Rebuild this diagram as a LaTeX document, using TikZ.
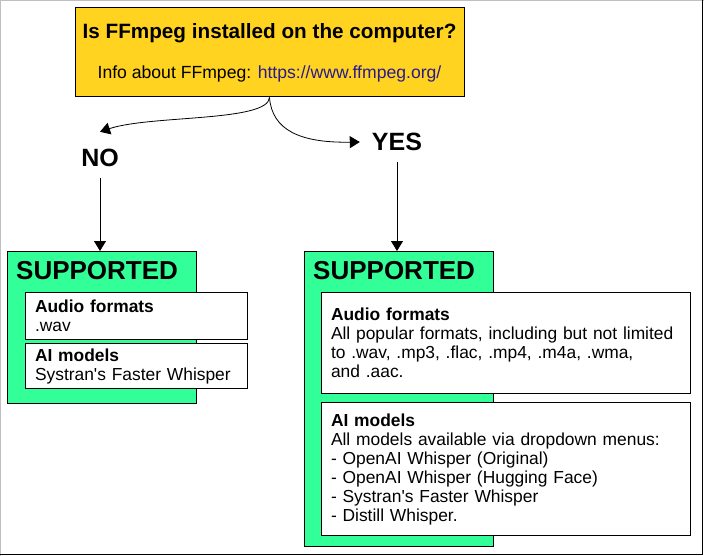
\documentclass[tikz,border=0pt]{standalone}
\usepackage{fontspec}
\setmainfont{Liberation Sans}
\usetikzlibrary{arrows.meta, positioning}
\definecolor{ffyellow}{HTML}{FFD320}
\definecolor{supgreen}{HTML}{33FF99}
\definecolor{linkblue}{HTML}{2A1A8C}

\begin{document}
\begin{tikzpicture}[x=1pt, y=-1pt,
    qbox/.style={rectangle, draw, fill=ffyellow, line width=1pt,
                 minimum width=389pt, minimum height=89pt, inner sep=0pt},
    grbox/.style={rectangle, draw, fill=supgreen, line width=1pt,
                  minimum width=189pt, anchor=north west, inner sep=0pt},
    infobox/.style={rectangle, draw, fill=white, line width=1pt, anchor=north west,
                    align=left, inner xsep=9.5pt, inner ysep=0pt,
                    font=\fontsize{17.4}{19}\selectfont},
    answer/.style={font=\fontsize{25}{30}\selectfont\bfseries,
                   minimum height=40pt, inner xsep=12pt},
    suplabel/.style={font=\fontsize{26}{30}\selectfont\bfseries, anchor=west, inner sep=0pt},
    arr/.style={-{Triangle[length=10pt, width=12pt]}, line width=0.8pt}
]
    \useasboundingbox (0,0) rectangle (704,556);
    % window frame
    \draw[black!25, line width=2pt] (0,556) -- (0,0) -- (704,0);
    \draw[line width=1.5pt] (702.5,0) -- (702.5,554.5) -- (0,554.5);

    % question
    \node[qbox] (ffq) at (269.5,52.5) {};
    \node[font=\fontsize{20.7}{24}\selectfont\bfseries] (qtitle) at (269.5,33)
        {Is FFmpeg installed on the computer?};
    \node[font=\fontsize{17.6}{20}\selectfont] (qinfo) at (269.5,74)
        {Info about FFmpeg: \textcolor{linkblue}{https://www.ffmpeg.org/}};

    % answers
    \node[answer] (no) at (100,158) {NO};
    \node[answer] (yes) at (397,142) {YES};

    % NO branch
    \node[grbox, minimum height=152pt] (nosup) at (7,251) {};
    \node[suplabel] (nosuptxt) at (16,271) {SUPPORTED};
    \node[infobox, text width=203pt, minimum height=47pt] (noaudio) at (25,292)
        {\textbf{Audio formats}\\.wav};
    \node[infobox, text width=203pt, minimum height=45pt] (nomodels) at (25,343)
        {\textbf{AI models}\\Systran\textquotesingle s Faster Whisper};

    % YES branch
    \node[grbox, minimum height=295pt] (yessup) at (304,251) {};
    \node[suplabel] (yessuptxt) at (313,271) {SUPPORTED};
    \node[infobox, text width=350pt, minimum height=101pt] (yesaudio) at (321,292)
        {\textbf{Audio formats}\\All popular formats, including but not limited\\
         to .wav, .mp3, .flac, .mp4, .m4a, .wma,\\and .aac.};
    \node[infobox, text width=350pt, minimum height=133pt] (yesmodels) at (321,402)
        {\textbf{AI models}\\All models available via dropdown menus:\\
         - OpenAI Whisper (Original)\\- OpenAI Whisper (Hugging Face)\\
         - Systran\textquotesingle s Faster Whisper\\- Distill Whisper.};

    \draw[arr] (ffq.south) .. controls (268,122) and (150,115) .. ([yshift=6pt]no.north);
    \draw[arr] (ffq.south) .. controls (272,130) and (300,143) .. (yes.west);
    \draw[arr] (no.south) -- (no.south |- nosup.north);
    \draw[arr] (yes.south) -- (yes.south |- yessup.north);
\end{tikzpicture}
\end{document}
